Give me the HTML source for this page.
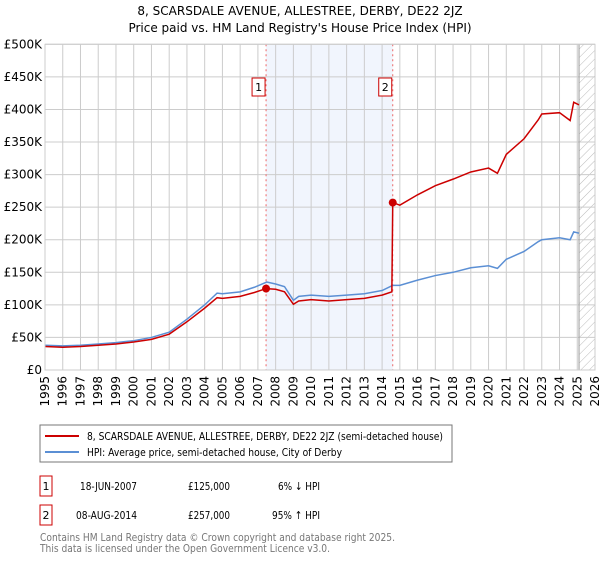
<!DOCTYPE html>
<html><head><meta charset="utf-8"><style>
body{margin:0;background:#fff;font-family:"DejaVu Sans","Liberation Sans",sans-serif;}
svg text{font-family:"DejaVu Sans","Liberation Sans",sans-serif;}
</style></head><body>
<svg id="c" width="600" height="560" xmlns="http://www.w3.org/2000/svg">
<defs><pattern id="hatch" width="6" height="6" patternUnits="userSpaceOnUse" patternTransform="rotate(45)"><line x1="0" y1="0" x2="0" y2="6" stroke="#bbb" stroke-width="1"/></pattern></defs>
<text x="300" y="15" text-anchor="middle" font-size="12">8, SCARSDALE AVENUE, ALLESTREE, DERBY, DE22 2JZ</text>
<text x="300" y="32" text-anchor="middle" font-size="12">Price paid vs. HM Land Registry's House Price Index (HPI)</text>
<g id="plot"></g>
<rect x="40" y="425" width="412" height="37" fill="#fff" stroke="#777"/>
<line x1="45" y1="436" x2="79" y2="436" stroke="#cc0000" stroke-width="2"/>
<text x="87" y="440" font-size="11" textLength="356" lengthAdjust="spacingAndGlyphs">8, SCARSDALE AVENUE, ALLESTREE, DERBY, DE22 2JZ (semi-detached house)</text>
<line x1="45" y1="452" x2="79" y2="452" stroke="#5b8fd4" stroke-width="2"/>
<text x="87" y="456" font-size="11" textLength="255" lengthAdjust="spacingAndGlyphs">HPI: Average price, semi-detached house, City of Derby</text>
<rect x="40" y="476" width="12" height="20" fill="none" stroke="#cc0000"/>
<text x="46" y="490" text-anchor="middle" font-size="11">1</text>
<text x="80" y="490" font-size="11" textLength="57" lengthAdjust="spacingAndGlyphs">18-JUN-2007</text>
<text x="188" y="490" font-size="11" textLength="42" lengthAdjust="spacingAndGlyphs">£125,000</text>
<text x="278" y="490" font-size="11" textLength="42" lengthAdjust="spacingAndGlyphs">6% ↓ HPI</text>
<rect x="40" y="505" width="12" height="20" fill="none" stroke="#cc0000"/>
<text x="46" y="519" text-anchor="middle" font-size="11">2</text>
<text x="76" y="519" font-size="11" textLength="61" lengthAdjust="spacingAndGlyphs">08-AUG-2014</text>
<text x="188" y="519" font-size="11" textLength="42" lengthAdjust="spacingAndGlyphs">£257,000</text>
<text x="272" y="519" font-size="11" textLength="48" lengthAdjust="spacingAndGlyphs">95% ↑ HPI</text>
<text x="40" y="541" font-size="11" fill="#777" textLength="355" lengthAdjust="spacingAndGlyphs">Contains HM Land Registry data © Crown copyright and database right 2025.</text>
<text x="40" y="552" font-size="11" fill="#777" textLength="290" lengthAdjust="spacingAndGlyphs">This data is licensed under the Open Government Licence v3.0.</text>
</svg>
<script>
const hpiYears=[1995,1996,1997,1998,1999,2000,2001,2002,2003,2004,2004.7,2005,2006,2006.8,2007.5,2008,2008.5,2009,2009.3,2010,2011,2012,2013,2014,2014.6,2015,2016,2017,2018,2019,2020,2020.5,2021,2022,2022.8,2023,2024,2024.6,2024.8,2025.1];
const hpiValues=[38,37,38,40,42,45,50,58,78,100,118,117,120,127,135,132,128,107,113,115,113,115,117,122,130,130,138,145,150,157,160,156,170,182,197,200,203,200,212,210];
const redYears=[1995,1996,1997,1998,1999,2000,2001,2002,2003,2004,2004.7,2005,2006,2006.8,2007.46,2008,2008.5,2009,2009.3,2010,2011,2012,2013,2014,2014.55,2014.6,2015,2016,2017,2018,2019,2020,2020.5,2021,2022,2022.8,2023,2024,2024.6,2024.8,2025.1];
const redValues=[36,35,36,38,40,43,47,55,74,95,111,110,113,119,125,124,120,101,106,108,106,108,110,115,120,257,253,269,283,293,304,310,302,331,355,384,393,395,383,411,407];
const saleYears=[2007.46,2014.6];
const saleValues=[125,257];
const yTicks=[0,50,100,150,200,250,300,350,400,450,500];
const yTickLabels=["£0","£50K","£100K","£150K","£200K","£250K","£300K","£350K","£400K","£450K","£500K"];
const xTicks=[1995,1996,1997,1998,1999,2000,2001,2002,2003,2004,2005,2006,2007,2008,2009,2010,2011,2012,2013,2014,2015,2016,2017,2018,2019,2020,2021,2022,2023,2024,2025,2026];
const X0=45,X1=595,Y0=370,Y1=44.3;
const xs=y=>X0+(y-1995)/(2026-1995)*(X1-X0);
const ys=v=>Y0-v/500*(Y0-Y1);
const NS="http://www.w3.org/2000/svg";
const g=document.getElementById('plot');
function mk(t,a){const e=document.createElementNS(NS,t);for(const k in a)e.setAttribute(k,a[k]);g.appendChild(e);return e;}
let e=mk('rect',{x:xs(saleYears[0]),y:Y1,width:xs(saleYears[1])-xs(saleYears[0]),height:Y0-Y1,fill:'#eef3fd',opacity:0.8});


e=mk('rect',{x:xs(2025.1),y:Y1,width:X1-xs(2025.1),height:Y0-Y1,fill:'url(#hatch)'});


yTicks.forEach((v,i)=>{
 let l=mk('line',{x1:X0,x2:X1,y1:ys(v),y2:ys(v),stroke:'#ccc'});
 
 
 let t=mk('text',{x:X0-3,y:ys(v)+4,'text-anchor':'end','font-size':'12'});t.textContent=yTickLabels[i];
 
 
});
xTicks.forEach(y=>{
 let l=mk('line',{x1:xs(y),x2:xs(y),y1:Y1,y2:Y0,stroke:'#ccc'});
 
 
 let t=mk('text',{x:0,y:0,'font-size':'12','text-anchor':'end',transform:`translate(${xs(y)+4},${Y0+6}) rotate(-90)`});t.textContent=y;
 
 
});
e=mk('line',{x1:xs(2025.1),x2:xs(2025.1),y1:Y1,y2:Y0,stroke:'#999'});


saleYears.forEach((y,i)=>{
 let l=mk('line',{x1:xs(y),x2:xs(y),y1:Y1,y2:Y0,stroke:'#e66','stroke-dasharray':'2,3'});
 
 
 let r=mk('rect',{x:xs(y)-14,y:78,width:13,height:18,fill:'#fff',stroke:'#cc0000'});
 
 
 let t=mk('text',{x:xs(y)-7.5,y:91,'text-anchor':'middle','font-size':'11'});t.textContent=i+1;
 
 
});
e=mk('polyline',{points:hpiYears.map((y,i)=>xs(y)+','+ys(hpiValues[i])).join(' '),fill:'none',stroke:'#5b8fd4','stroke-width':1.5});


e=mk('polyline',{points:redYears.map((y,i)=>xs(y)+','+ys(redValues[i])).join(' '),fill:'none',stroke:'#cc0000','stroke-width':1.5});


saleYears.forEach((y,i)=>{
 let c=mk('circle',{cx:xs(y),cy:ys(saleValues[i]),r:4,fill:'#cc0000'});
 
 
});
e=mk('rect',{x:X0,y:Y1,width:X1-X0,height:Y0-Y1,fill:'none',stroke:'#ccc'});


</script>
</body></html>
